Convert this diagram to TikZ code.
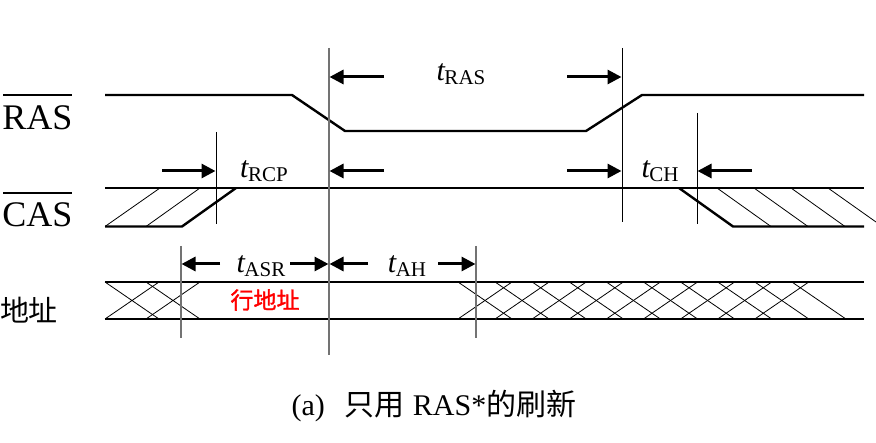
\documentclass[tikz,border=0pt]{standalone}
\usepackage{fontspec}
\setmainfont{Liberation Serif}
\newfontfamily\cjk{Noto Sans CJK SC}
\newfontfamily\cjkb{Noto Sans CJK SC}[FakeBold=1.5]
\usetikzlibrary{arrows.meta}
\newcommand{\tlab}[1]{{\fontsize{30}{30}\selectfont\itshape t}\kern-0.5pt{\fontsize{21}{21}\selectfont\raisebox{-4pt}{#1}}}
\tikzset{
  sig/.style={line width=2.4pt, line join=miter},
  hat/.style={line width=0.8pt},
  vblack/.style={line width=0.9pt, black},
  vgray/.style={line width=1.3pt, black!55},
  dimarr/.style={line width=3pt, -{Triangle[length=14pt,width=14pt]}},
  lbl/.style={inner sep=0pt},
}
\begin{document}
\begin{tikzpicture}[x=1pt,y=-1pt]
\useasboundingbox (0,0) rectangle (876,443);
% left labels
\node[lbl] (ras) at (37.5,117.5) {\fontsize{36}{36}\selectfont RAS};
\draw[line width=1.6pt] (3,95) -- (72,95);
\node[lbl] (cas) at (37.5,214.5) {\fontsize{36}{36}\selectfont CAS};
\draw[line width=1.6pt] (3,193) -- (72,193);
\node[lbl] (addr) at (29,310) {\fontsize{29}{29}\selectfont\cjk 地址};
% RAS signal
\draw[sig] (105,95) -- (292,95) -- (345,131) -- (586,131) -- (642,95) -- (864,95);
% CAS signal
\draw[sig] (105,188) -- (864,188);
\draw[sig] (105,226.5) -- (182,226.5) -- (236,188);
\draw[sig] (679,188) -- (733,226.5) -- (864,226.5);
\draw[hat] (105,226.5) -- (160,188) (146,226.5) -- (200,188);
\draw[hat] (717,188) -- (771,226.5) (754,188) -- (808,226.5) (791,188) -- (845,226.5) (828,188) -- (876,222);
% address bus
\draw[sig] (105,282) -- (864,282) (105,319) -- (864,319);
\foreach \a in {105,146}{
  \draw[hat] (\a,282) -- (\a+54,319) (\a,319) -- (\a+54,282);
}
\foreach \i in {0,...,9}{
  \draw[hat] (458+37.1*\i,282) -- (512+37.1*\i,319);
}
\foreach \i in {0,...,8}{
  \draw[hat] (458+37.1*\i,319) -- (512+37.1*\i,282);
}
% vertical reference lines
\draw[vgray] (329,48) -- (329,355);
\draw[vgray] (181,246) -- (181,338);
\draw[vgray] (476,246) -- (476,338);
\draw[vblack] (216,132) -- (216,224);
\draw[vblack] (622,48) -- (622,222);
\draw[vblack] (697,113) -- (697,224);
% dimension arrows
\draw[dimarr] (384,77) -- (329.5,77);
\draw[dimarr] (567,77) -- (621.5,77);
\draw[dimarr] (162,171) -- (215.5,171);
\draw[dimarr] (384,171) -- (329.5,171);
\draw[dimarr] (567,171) -- (621.5,171);
\draw[dimarr] (752,171) -- (697.5,171);
\draw[dimarr] (220,264) -- (181.5,264);
\draw[dimarr] (290,264) -- (328.5,264);
\draw[dimarr] (368,264) -- (329.5,264);
\draw[dimarr] (438,264) -- (475.5,264);
% timing labels
\node[lbl] (tras) at (461,74) {\tlab{RAS}};
\node[lbl] (trcp) at (264,171) {\tlab{RCP}};
\node[lbl] (tch) at (660,171) {\tlab{CH}};
\node[lbl] (tasr) at (261,266) {\tlab{ASR}};
\node[lbl] (tah) at (407,266) {\tlab{AH}};
% row address
\node[lbl, text=red] (row) at (265,300) {\fontsize{23}{23}\selectfont\cjkb 行地址};
% caption
\node[lbl] (cap) at (434,406) {\fontsize{30}{30}\selectfont (a)\hspace{20pt}{\cjk 只用}\hspace{8pt}RAS*{\cjk 的刷新}};
\end{tikzpicture}
\end{document}
